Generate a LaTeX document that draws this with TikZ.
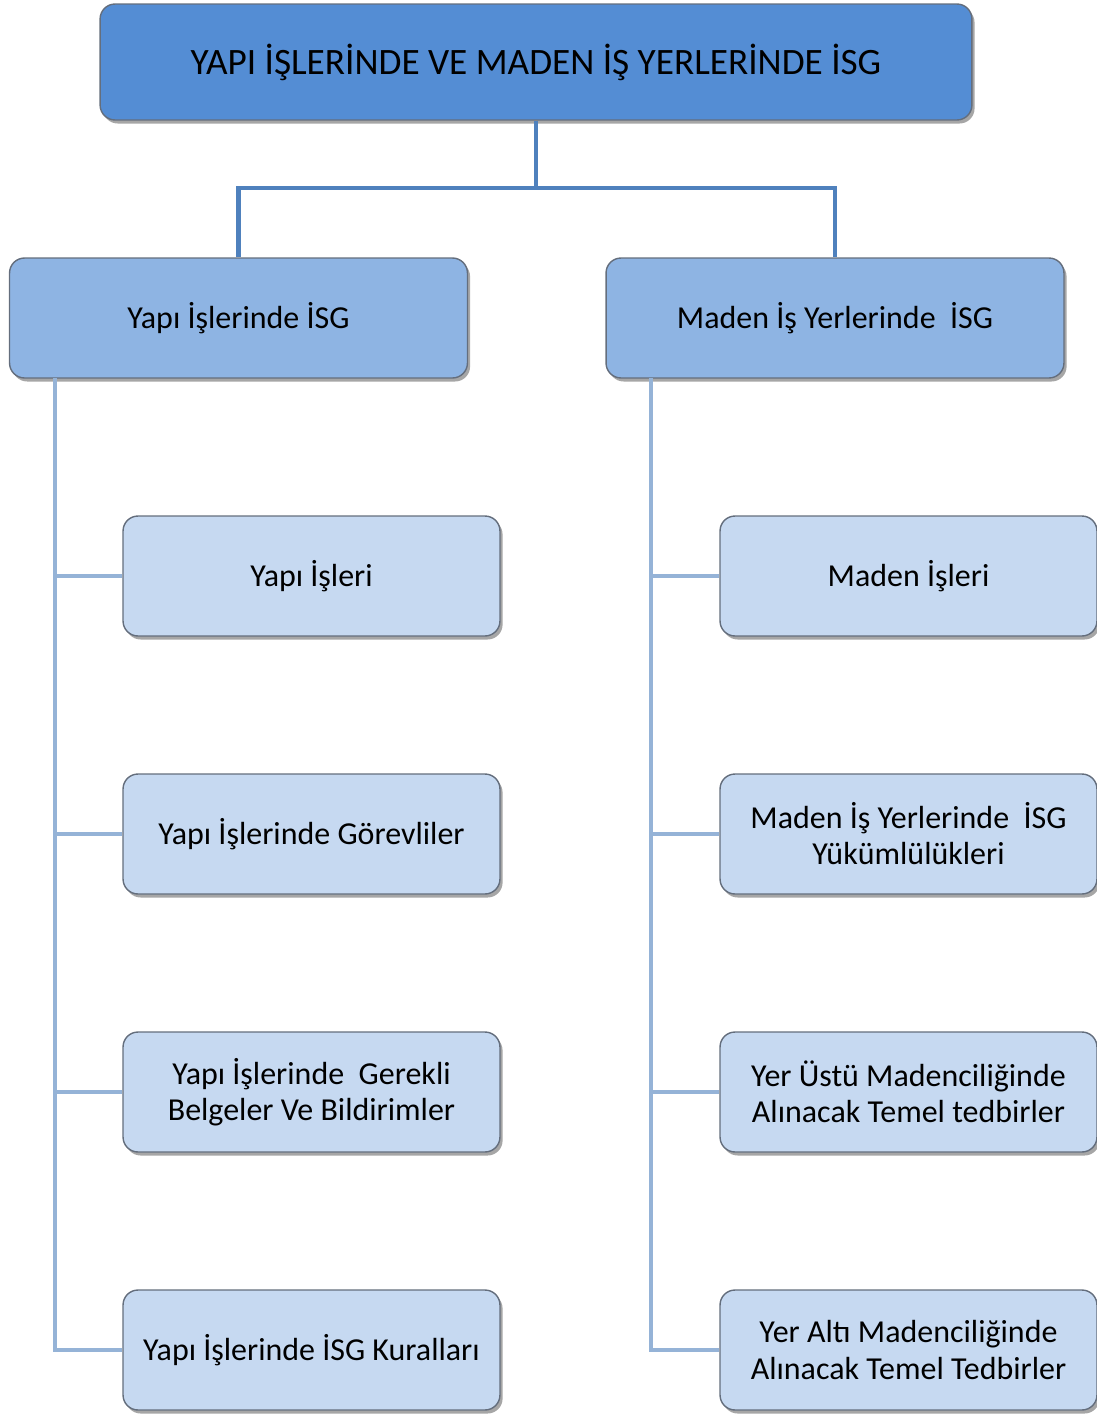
\documentclass[tikz,border=0pt]{standalone}
\usepackage{fontspec}
\setmainfont{Carlito}
\usetikzlibrary{shadows}
\definecolor{topblue}{RGB}{84,141,212}
\definecolor{midblue}{RGB}{142,180,227}
\definecolor{lowblue}{RGB}{198,217,241}
\definecolor{rimgray}{RGB}{100,110,125}
\definecolor{linkdark}{RGB}{79,129,189}
\definecolor{linklight}{RGB}{149,179,215}

\tikzset{
  box/.style={draw=rimgray, line width=0.8pt, rounded corners=0.3cm, align=center,
    font=\fontsize{18.2}{20.5}\selectfont,
    drop shadow={shadow xshift=1.5pt, shadow yshift=-2pt, opacity=0.35, fill=black}},
  topbox/.style={box, fill=topblue, minimum width=17.44cm, minimum height=2.32cm,
    font=\fontsize{21.2}{24}\selectfont},
  midbox/.style={box, fill=midblue, minimum width=9.16cm, minimum height=2.4cm},
  lowbox/.style={box, fill=lowblue, minimum width=7.54cm, minimum height=2.4cm},
  linkA/.style={draw=linkdark, line width=2.8pt},
  linkB/.style={draw=linklight, line width=2.8pt}
}

\begin{document}
\begin{tikzpicture}[x=0.02cm, y=-0.02cm]
				\useasboundingbox (0,0) rectangle (1097,1414);

				% connectors first, boxes on top
				\coordinate (fork) at (536,188);
				\coordinate (spineL) at (55,378);
				\coordinate (spineR) at (651,378);

				\node[topbox] (top) at (536,62) {YAPI İŞLERİNDE VE MADEN İŞ YERLERİNDE İSG};

				\node[midbox] (yapi) at (238.5,318) {Yapı İşlerinde İSG};
				\node[midbox] (maden) at (835,318) {Maden İş Yerlerinde \ İSG};

				\node[lowbox] (y1) at (311.5,576) {Yapı İşleri};
				\node[lowbox] (y2) at (311.5,834) {Yapı İşlerinde Görevliler};
				\node[lowbox] (y3) at (311.5,1092) {Yapı İşlerinde \ Gerekli\\Belgeler Ve Bildirimler};
				\node[lowbox] (y4) at (311.5,1350) {Yapı İşlerinde İSG Kuralları};

				\node[lowbox] (m1) at (908.5,576) {Maden İşleri};
				\node[lowbox] (m2) at (908.5,834) {Maden İş Yerlerinde \ İSG\\Yükümlülükleri};
				\node[lowbox] (m3) at (908.5,1092) {Yer Üstü Madenciliğinde\\Alınacak Temel tedbirler};
				\node[lowbox] (m4) at (908.5,1350) {Yer Altı Madenciliğinde\\Alınacak Temel Tedbirler};

				\draw[linkA] (top.south)--(fork);
				\draw[linkA] (yapi.north)|-(fork)-|(maden.north);

				\foreach \n in {y1,y2,y3,y4} \draw[linkB] (spineL)|-(\n.west);
				\foreach \n in {m1,m2,m3,m4} \draw[linkB] (spineR)|-(\n.west);

\end{tikzpicture}
\end{document}
